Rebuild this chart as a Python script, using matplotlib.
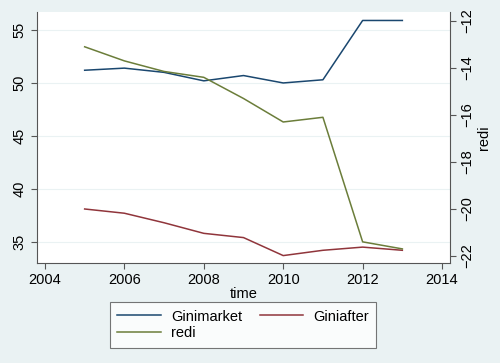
import numpy as np
import matplotlib
matplotlib.use("Agg")
import matplotlib.pyplot as plt

years = [2005, 2006, 2007, 2008, 2009, 2010, 2011, 2012, 2013]
ginimarket = [51.2, 51.4, 51.0, 50.2, 50.7, 50.0, 50.3, 55.9, 55.9]
giniafter = [38.1, 37.7, 36.8, 35.8, 35.4, 33.7, 34.2, 34.5, 34.2]
redi = [-13.1, -13.7, -14.15, -14.4, -15.3, -16.3, -16.1, -21.4, -21.7]

bg = "#eaf2f3"
c_market = "#1a476f"
c_after = "#90353b"
c_redi = "#6b7d3a"

plt.rcParams["font.family"] = ["Liberation Sans", "DejaVu Sans"]

fig = plt.figure(figsize=(5, 3.63), dpi=100, facecolor=bg)
ax = fig.add_axes([37/500, 1 - 263/363, 413/500, 251/363])
ax.set_facecolor("white")

l1, = ax.plot(years, ginimarket, color=c_market, lw=1.1, label="Ginimarket")
l2, = ax.plot(years, giniafter, color=c_after, lw=1.1, label="Giniafter")
ax.set_xlim(2003.8, 2014.2)
ax.set_ylim(33.0, 56.7)
ax.set_xticks([2004, 2006, 2008, 2010, 2012, 2014])
ax.set_yticks([35, 40, 45, 50, 55])
ax.grid(axis="y", color="#eaf2f3", lw=0.8)
ax.set_axisbelow(True)
for lab in ax.get_yticklabels():
    lab.set_rotation(90)
    lab.set_va("center")
ax.tick_params(labelsize=10.5, length=4, color="#555555")
ax.set_xlabel("time", fontsize=10.5, labelpad=0, loc="center")

ax2 = ax.twinx()
l3, = ax2.plot(years, redi, color=c_redi, lw=1.1, label="redi")
ax2.set_ylim(-22.3, -11.62)
ax2.set_yticks([-22, -20, -18, -16, -14, -12])
for lab in ax2.get_yticklabels():
    lab.set_rotation(90)
    lab.set_va("center")
ax2.tick_params(labelsize=10.5, length=4, color="#555555")
ax2.set_ylabel("redi", fontsize=10.5, labelpad=2)

for a in (ax, ax2):
    a.spines["top"].set_visible(False)
    for s in ("left", "right", "bottom"):
        a.spines[s].set_color("#555555")
ax.spines["right"].set_visible(False)
ax2.spines["left"].set_visible(False)
ax2.spines["bottom"].set_visible(False)

leg = fig.legend([l1, l3, l2], ["Ginimarket", "redi", "Giniafter"], ncol=2,
                 loc="center", bbox_to_anchor=(243/500, 1 - 325/363),
                 fontsize=10.5, frameon=True, fancybox=False, edgecolor="#555555",
                 handlelength=3.0, handletextpad=0.7, columnspacing=1.2,
                 borderpad=0.5, labelspacing=0.2)
leg.get_frame().set_linewidth(0.8)

fig.savefig("out.png", dpi=100, facecolor=bg)
